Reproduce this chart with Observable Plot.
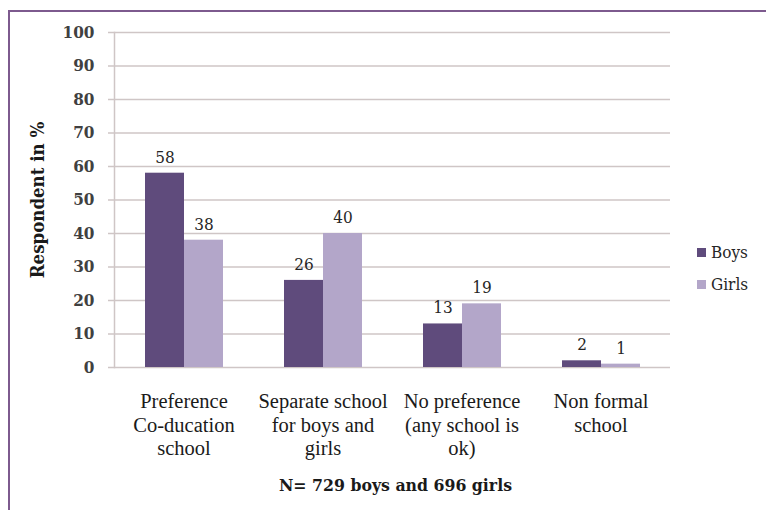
<!DOCTYPE html>
<html>
<head>
<meta charset="utf-8">
<script src="https://cdn.jsdelivr.net/npm/d3@7"></script>
<script src="https://cdn.jsdelivr.net/npm/@observablehq/plot@0.6"></script>
<style>
  html, body { margin: 0; padding: 0; background: #ffffff; }
  #wrap { position: relative; width: 766px; height: 510px; overflow: hidden; }
  #border { position: absolute; left: 8px; top: 10px; width: 800px; height: 560px;
            border-left: 2px solid #7d5a8e; border-top: 2px solid #7d5a8e; box-sizing: border-box; }
  #chart { position: absolute; left: 0; top: 0; }
  #ylabel { position: absolute; left: 37px; top: 200px; transform: translate(-50%, -50%) rotate(-90deg);
            white-space: nowrap; font-family: "DejaVu Serif Condensed", "DejaVu Serif", serif; font-weight: bold;
            font-size: 18.5px; color: #1a1a1a; }
  #caption { position: absolute; left: 123px; width: 545px; top: 475px; text-align: center;
             font-family: "DejaVu Serif Condensed", "DejaVu Serif", serif; font-weight: bold; font-size: 17.5px; color: #1a1a1a; }
  #legend { position: absolute; left: 697px; top: 236px; font-family: "DejaVu Serif Condensed", "DejaVu Serif", serif;
            font-size: 17px; color: #262626; }
  #legend .item { display: flex; align-items: center; height: 32px; }
  #legend .sw { width: 9px; height: 9px; margin-right: 5px; }
</style>
</head>
<body>
<div id="wrap">
  <div id="border"></div>
  <div id="chart"></div>
  <div id="ylabel"></div>
  <div id="caption"></div>
  <div id="legend"></div>
</div>
<script>
const categories = [
  "Preference\nCo-ducation\nschool",
  "Separate school\nfor boys and\ngirls",
  "No preference\n(any school is\nok)",
  "Non formal\nschool"
];
const series = ["Boys", "Girls"];
const boysValues = [58, 26, 13, 2];
const girlsValues = [38, 40, 19, 1];
const seriesColors = ["#5f4b7c", "#b3a6c9"];
const yTicks = [0, 10, 20, 30, 40, 50, 60, 70, 80, 90, 100];
const yTitle = "Respondent in %";
const captionText = "N= 729 boys and 696 girls";

const data = [];
categories.forEach((c, i) => {
  data.push({category: c, sex: "Boys", value: boysValues[i]});
  data.push({category: c, sex: "Girls", value: girlsValues[i]});
});

const numFont = '"DejaVu Serif Condensed", "DejaVu Serif", serif';
const catFont = '"Liberation Serif", "Times New Roman", serif';
const gridColor = "#cfc6c6";

const chart = Plot.plot({
  width: 766,
  height: 510,
  marginLeft: 113,
  marginRight: 96,
  marginTop: 32,
  marginBottom: 143,
  style: {background: "transparent", overflow: "visible", fontFamily: catFont},
  fx: {domain: categories, padding: 0, label: null},
  x: {domain: series, axis: null, paddingInner: 0, paddingOuter: 0.74},
  y: {domain: [0, 100], label: null},
  color: {domain: series, range: seriesColors},
  marks: [
    Plot.gridY(yTicks, {stroke: gridColor, strokeOpacity: 1, strokeWidth: 1.5}),
    Plot.frame({anchor: "left", facetAnchor: "left", stroke: gridColor, strokeWidth: 1.5}),
    Plot.axisY(yTicks, {
      tickSize: 6, tickPadding: 14, stroke: gridColor, strokeWidth: 1.5,
      fontSize: 17, fontWeight: "bold", fontFamily: numFont, fill: "#404040", label: null
    }),
    Plot.axisFx({
      anchor: "bottom", tickSize: 0, tickPadding: 23, fontSize: 20.5,
      fontFamily: catFont, fill: "#1a1a1a",
      lineHeight: 1.17, label: null
    }),
    Plot.barY(data, {fx: "category", x: "sex", y: "value", fill: "sex"}),
    Plot.text(data, {
      fx: "category", x: "sex", y: "value", text: d => String(d.value),
      dy: -16, fontSize: 17, fontFamily: numFont, fill: "#262626"
    })
  ]
});
document.getElementById("chart").appendChild(chart);
document.getElementById("ylabel").textContent = yTitle;
document.getElementById("caption").textContent = captionText;
const legend = document.getElementById("legend");
series.forEach((s, i) => {
  const item = document.createElement("div");
  item.className = "item";
  const sw = document.createElement("span");
  sw.className = "sw";
  sw.style.background = seriesColors[i];
  const t = document.createElement("span");
  t.textContent = s;
  item.appendChild(sw);
  item.appendChild(t);
  legend.appendChild(item);
});
</script>
</body>
</html>
